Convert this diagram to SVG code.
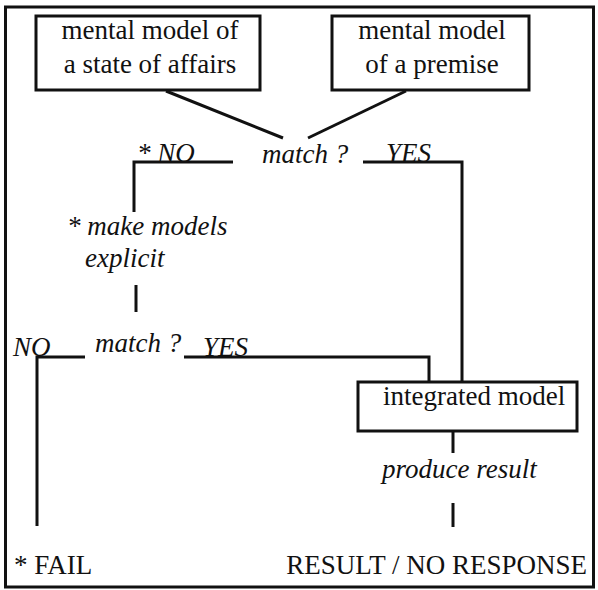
<svg xmlns="http://www.w3.org/2000/svg" width="598" height="590" viewBox="0 0 598 590">
<style>
.t{font-family:'Liberation Serif','Times New Roman',Times,serif;font-size:27px;fill:#111}
.i{font-style:italic}
.box{fill:none;stroke:#111;stroke-width:3}
.ln{fill:none;stroke:#111;stroke-width:3}
</style>
<rect width="598" height="590" fill="#fff"/>
<rect x="5.5" y="7" width="588" height="580" fill="none" stroke="#111" stroke-width="3"/>
<g id="state">
<rect class="box" x="36" y="16" width="224" height="74"/>
<text class="t" x="150" y="39" text-anchor="middle">mental model of</text>
<text class="t" x="150" y="73" text-anchor="middle">a state of affairs</text>
</g>
<g id="premise">
<rect class="box" x="332" y="16" width="197" height="74"/>
<text class="t" x="432" y="39" text-anchor="middle">mental model</text>
<text class="t" x="432" y="73" text-anchor="middle">of a premise</text>
</g>
<g id="match1">
<text class="t i" x="262" y="163">match ?</text>
<text class="t i" x="137" y="162">* NO</text>
<text class="t i" x="386" y="162">YES</text>
</g>
<g id="explicit">
<text class="t i" x="67" y="235">* make models</text>
<text class="t i" x="85" y="267">explicit</text>
</g>
<g id="match2">
<text class="t i" x="95" y="352">match ?</text>
<text class="t i" x="13" y="356">NO</text>
<text class="t i" x="203" y="356">YES</text>
</g>
<g id="integrated">
<rect class="box" x="358" y="382" width="219" height="49"/>
<text class="t" x="383" y="405">integrated model</text>
</g>
<g id="produce">
<text class="t i" x="382" y="478">produce result</text>
</g>
<g id="fail">
<text class="t" x="14" y="574">* FAIL</text>
</g>
<g id="result">
<text class="t" x="587" y="574" text-anchor="end">RESULT / NO RESPONSE</text>
</g>
<g id="connectors">
<path class="ln" d="M166 91 L283 138"/>
<path class="ln" d="M406 91 L308 138"/>
<path class="ln" d="M233 162 H134 V212"/>
<path class="ln" d="M136 285 V312"/>
<path class="ln" d="M363 162 H462 V382"/>
<path class="ln" d="M85 357 H37 V526"/>
<path class="ln" d="M184 357 H429 V382"/>
<path class="ln" d="M453 431 V453"/>
<path class="ln" d="M453 503 V527"/>
</g>
</svg>
